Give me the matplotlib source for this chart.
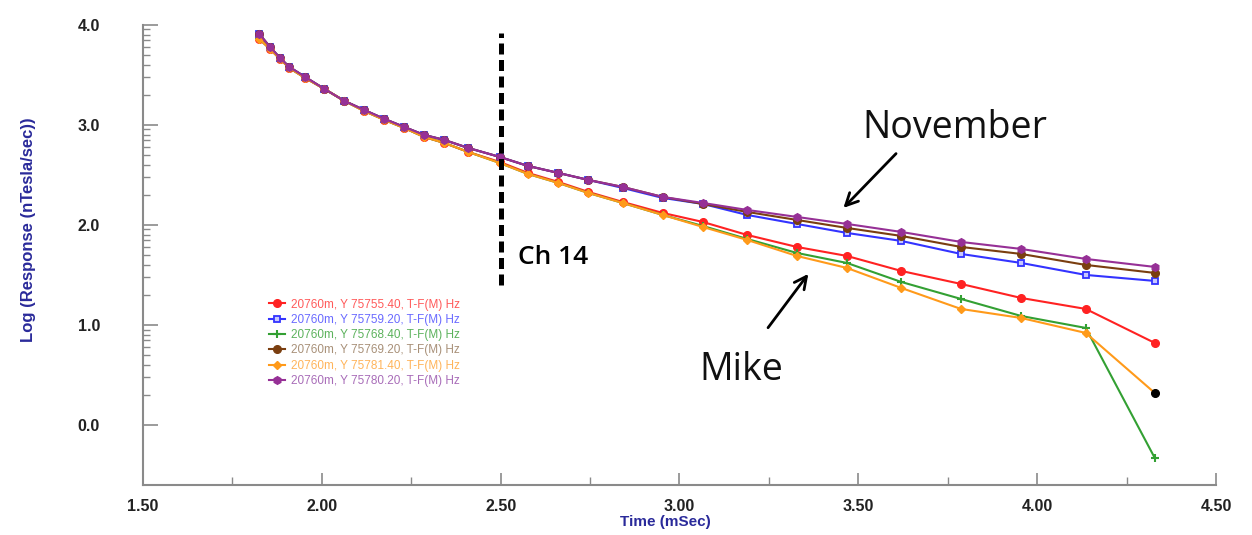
import matplotlib
matplotlib.use("Agg")
import matplotlib.pyplot as plt
from matplotlib.ticker import FixedLocator, MultipleLocator, FormatStrFormatter
import numpy as np

# channel times (mSec)
times = [1.825, 1.855, 1.883, 1.909, 1.953, 2.007, 2.063, 2.118, 2.175, 2.230,
         2.286, 2.342, 2.409, 2.497, 2.576, 2.661, 2.745, 2.841, 2.953, 3.065,
         3.189, 3.328, 3.468, 3.620, 3.787, 3.955, 4.136, 4.329]

# shared early decay, then each station
early = [3.91, 3.78, 3.67, 3.58, 3.48, 3.36, 3.24, 3.15, 3.06, 2.98]
early_low = [3.86, 3.76, 3.66, 3.57, 3.47, 3.36, 3.24, 3.14, 3.05, 2.97]

purple_y = early + [2.90, 2.85, 2.77, 2.68, 2.59, 2.52, 2.45, 2.38, 2.28, 2.22,
                    2.15, 2.08, 2.01, 1.93, 1.83, 1.76, 1.66, 1.58]
brown_y = early + [2.90, 2.85, 2.77, 2.68, 2.59, 2.52, 2.45, 2.38, 2.28, 2.21,
                   2.13, 2.05, 1.97, 1.89, 1.78, 1.71, 1.60, 1.52]
blue_y = early + [2.90, 2.85, 2.77, 2.68, 2.59, 2.52, 2.45, 2.37, 2.27, 2.21,
                  2.10, 2.01, 1.92, 1.84, 1.71, 1.62, 1.50, 1.44]
red_y = early_low + [2.88, 2.82, 2.73, 2.63, 2.52, 2.43, 2.33, 2.23, 2.12, 2.03,
                     1.90, 1.78, 1.69, 1.54, 1.41, 1.27, 1.16, 0.82]
green_y = early_low + [2.88, 2.82, 2.73, 2.62, 2.51, 2.42, 2.32, 2.22, 2.10, 1.99,
                       1.86, 1.72, 1.62, 1.43, 1.26, 1.09, 0.97, -0.33]
orange_y = early_low + [2.88, 2.82, 2.73, 2.62, 2.51, 2.42, 2.32, 2.22, 2.10, 1.98,
                        1.85, 1.69, 1.57, 1.37, 1.16, 1.07, 0.92, 0.32]

labels = ["20760m, Y 75755.40, T-F(M) Hz",
          "20760m, Y 75759.20, T-F(M) Hz",
          "20760m, Y 75768.40, T-F(M) Hz",
          "20760m, Y 75769.20, T-F(M) Hz",
          "20760m, Y 75781.40, T-F(M) Hz",
          "20760m, Y 75780.20, T-F(M) Hz"]

series = [red_y, blue_y, green_y, brown_y, orange_y, purple_y]
colors = ["#ff2222", "#3333ff", "#33a033", "#7a3e10", "#ff9a1a", "#963096"]
text_colors = ["#ff5a5a", "#6a6aff", "#5cb25c", "#a89078", "#ffb45a", "#a86cb8"]
markers = ["o", "s", "+", "o", "D", "h"]

ch14_time = 2.5
ch14_low, ch14_high = 1.40, 3.92

fig = plt.figure(figsize=(12.52, 5.35), dpi=100)
ax = fig.add_axes([0.1142, 0.0935, 0.857, 0.86])

for y, c, m, lab in zip(series, colors, markers, labels):
    if m == "s":
        ax.plot(times, y, color=c, lw=1.5, marker=m, ms=5, mfc="#c8c8ff", mec=c, mew=1.3, label=lab)
    elif m == "+":
        ax.plot(times, y, color=c, lw=1.5, marker=m, ms=6, mew=1.5, label=lab)
    elif m == "D":
        ax.plot(times, y, color=c, lw=1.5, marker=m, ms=4.5, label=lab)
    else:
        ax.plot(times, y, color=c, lw=1.5, marker=m, ms=5.5, label=lab)

# last orange point drawn in black
ax.plot(times[-1], orange_y[-1], "o", color="black", ms=5.5, zorder=5)

ax.vlines(ch14_time, ch14_low, ch14_high, colors="black", lw=3.6,
          linestyles=(0, (2.2, 1.1)))

ax.text(2.548, 1.67, "Ch 14", fontsize=19, fontweight="semibold",
        family=["Open Sans", "DejaVu Sans"], ha="left", va="center")
ax.text(3.77, 2.97, "November", fontsize=27, family=["Open Sans", "DejaVu Sans"],
        ha="center", va="center", color="#111111")
ax.text(3.172, 0.55, "Mike", fontsize=27, family=["Open Sans", "DejaVu Sans"],
        ha="center", va="center", color="#111111")
ax.annotate("", xy=(3.453, 2.15), xytext=(3.611, 2.733),
            arrowprops=dict(arrowstyle="->", lw=2, color="black", mutation_scale=22))
ax.annotate("", xy=(3.365, 1.533), xytext=(3.243, 0.95),
            arrowprops=dict(arrowstyle="->", lw=2, color="black", mutation_scale=22))

ax.set_xlim(1.5, 4.5)
ax.set_ylim(-0.6, 4.0)

ax.xaxis.set_major_locator(MultipleLocator(0.5))
ax.xaxis.set_minor_locator(MultipleLocator(0.25))
ax.xaxis.set_major_formatter(FormatStrFormatter("%.2f"))
ax.yaxis.set_major_locator(FixedLocator([0.0, 1.0, 2.0, 3.0, 4.0]))
minor_y = [n + np.log10(k) for n in range(4) for k in range(2, 10)]
ax.yaxis.set_minor_locator(FixedLocator(minor_y))
ax.yaxis.set_major_formatter(FormatStrFormatter("%.1f"))

for s in ["top", "right"]:
    ax.spines[s].set_visible(False)
for s in ["left", "bottom"]:
    ax.spines[s].set_color("#8a8a8a")
    ax.spines[s].set_linewidth(1.5)

ax.tick_params(axis="y", which="major", direction="in", length=11, width=1.2,
               color="#8a8a8a", pad=31)
ax.tick_params(axis="y", which="minor", direction="in", length=5, width=1.0,
               color="#8a8a8a")
ax.tick_params(axis="x", which="major", direction="in", length=9, width=1.2,
               color="#8a8a8a", pad=10)
ax.tick_params(axis="x", which="minor", direction="in", length=6, width=1.0,
               color="#8a8a8a")
for t in ax.get_xticklabels() + ax.get_yticklabels():
    t.set_family(["Liberation Sans", "DejaVu Sans"])
    t.set_fontweight("bold")
    t.set_fontsize(11.5)
    t.set_color("#222222")

ax.set_xlabel("Time (mSec)", fontsize=11, fontweight="bold", color="#2a2a9a",
              family=["Liberation Sans", "DejaVu Sans"])
ax.xaxis.set_label_coords(0.4865, -0.066)
ax.set_ylabel("Log (Response (nTesla/sec))", fontsize=12, fontweight="bold",
              color="#2a2a9a", family=["Liberation Sans", "DejaVu Sans"])
ax.yaxis.set_label_coords(-0.1, 0.554)

leg = ax.legend(loc="upper left", bbox_to_anchor=(0.1118, 0.418), frameon=False,
                borderpad=0, handlelength=1.4, handletextpad=0.5, labelspacing=0.28,
                prop={"family": ["Liberation Sans", "DejaVu Sans"], "size": 8.5})
for txt, tc in zip(leg.get_texts(), text_colors):
    txt.set_color(tc)

fig.savefig("out.png", dpi=100)
